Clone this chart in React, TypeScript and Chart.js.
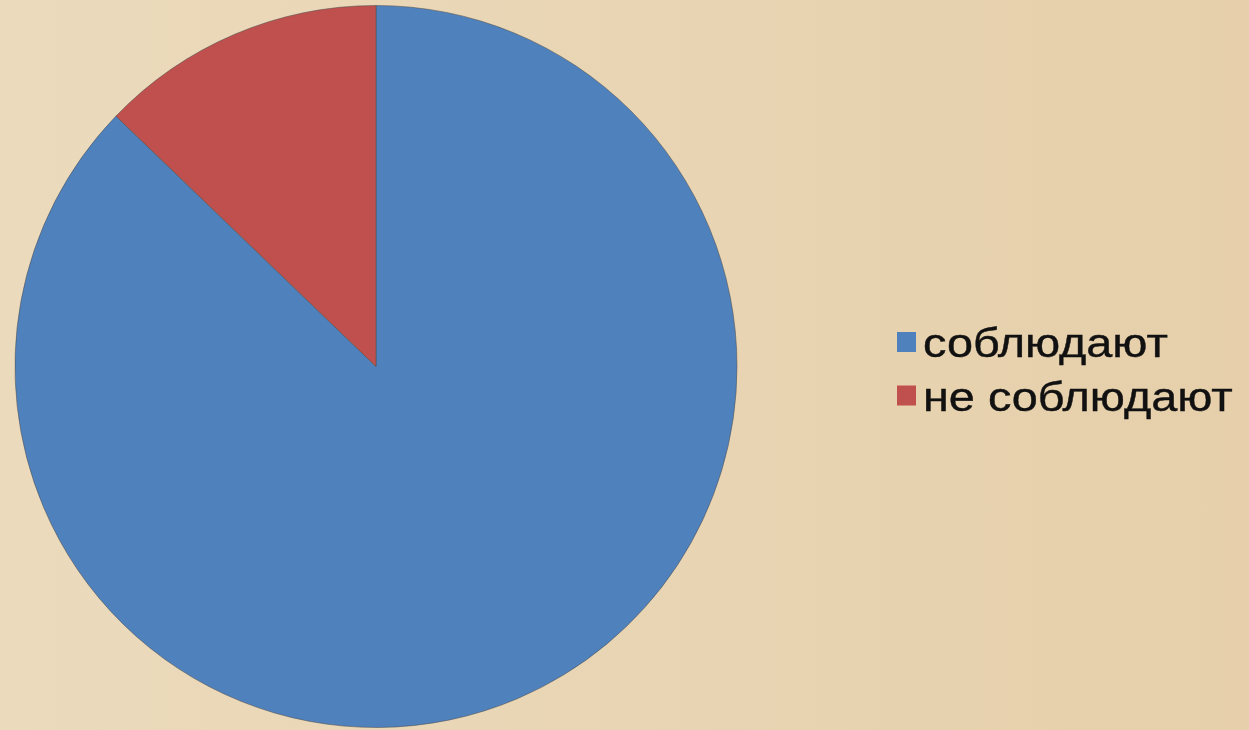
import React, { useEffect, useRef } from "react";
import { Chart, registerables } from "chart.js";

Chart.register(...registerables);

const categories = ["соблюдают", "не соблюдают"];
const values = [87.2, 12.8];
const colors = ["#4F81BD", "#C0504D"];

const legendPlugin = {
  id: "sideLegend",
  afterDraw(chart: any) {
    const ctx = chart.ctx;
    const labels = chart.data.labels as string[];
    const bg = chart.data.datasets[0].backgroundColor as string[];
    const x0 = chart.chartArea.right + 159;
    ctx.save();
    ctx.font = "40px 'Liberation Sans', Arial, sans-serif";
    ctx.textBaseline = "alphabetic";
    ctx.textAlign = "left";
    labels.forEach((lab, i) => {
      const yBase = 357 + i * 53.5;
      ctx.fillStyle = bg[i];
      ctx.fillRect(x0, yBase - 25, 19, 20);
      ctx.fillStyle = "#111111";
      ctx.strokeStyle = "#111111";
      ctx.lineWidth = 0.4;
      ctx.save();
      ctx.translate(x0 + 26, yBase);
      ctx.scale(1.17, 1);
      ctx.fillText(lab, 0, 0);
      ctx.strokeText(lab, 0, 0);
      ctx.restore();
    });
    ctx.restore();
  },
};

export default function App() {
  const ref = useRef<HTMLCanvasElement>(null);
  useEffect(() => {
    document.body.style.margin = "0";
    const chart = new Chart(ref.current!, {
      type: "pie",
      data: {
        labels: categories,
        datasets: [
          {
            data: values,
            backgroundColor: colors,
            borderColor: "rgba(80,80,80,0.55)",
            borderWidth: 1,
          },
        ],
      },
      options: {
        responsive: false,
        animation: false,
        layout: { padding: { left: 14, right: 511, top: 5, bottom: 2 } },
        plugins: {
          legend: { display: false },
          tooltip: { enabled: false },
          title: { display: false },
        },
      },
      plugins: [legendPlugin],
    });
    return () => chart.destroy();
  }, []);
  return (
    <div
      style={{
        width: 1249,
        height: 730,
        background: "linear-gradient(90deg, #EBDABC 0%, #E8D4B2 60%, #E6CFAA 100%)",
      }}
    >
      <canvas ref={ref} width={1249} height={730} style={{ display: "block" }} />
    </div>
  );
}
